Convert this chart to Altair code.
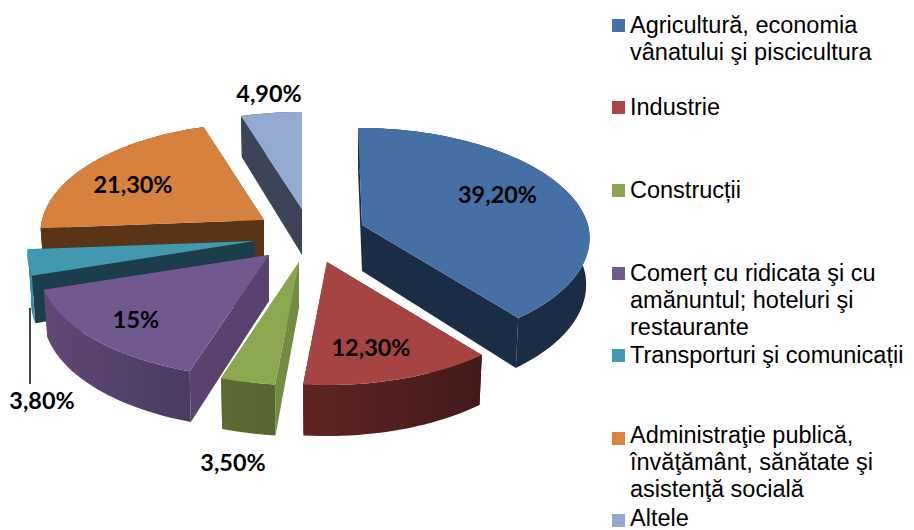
import math
import altair as alt

names = [
    "Agricultură, economia\nvânatului şi piscicultura",
    "Industrie",
    "Construcții",
    "Comerț cu ridicata şi cu\namănuntul; hoteluri şi\nrestaurante",
    "Transporturi şi comunicații",
    "Administraţie publică,\nînvăţământ, sănătate şi\nasistenţă socială",
    "Altele",
]
values = [39.2, 12.3, 3.5, 15.0, 3.8, 21.3, 4.9]
value_labels = ["39,20%", "12,30%", "3,50%", "15%", "3,80%", "21,30%", "4,90%"]

# ---- styling / layout (page pixels) ----
top_colors = ["#4570a6", "#a64442", "#8aa84f", "#71588f", "#4198af", "#d6823e", "#93a9cf"]
legend_colors = ["#4572a7", "#aa4643", "#89a54e", "#71588f", "#4198af", "#db843d", "#93a9cf"]
wall_colors = ["#1b2d45", "#4f1f1e", "#748c41", "#5a4270", "#1c3e4a", "#5a3417", "#3c4557"]
band_left = ["#1b2d45", "#5f2423", "#5b6c32", "#604876", "#3a8ea4", "#5a3417", "#3c4557"]
band_right = ["#1b2d45", "#431a19", "#56672f", "#4c3a60", "#3a8ea4", "#5a3417", "#3c4557"]
apex = [(362, 225), (327, 262), (299, 262), (269, 255), (255, 241), (264, 220), (302, 209)]
radius_x = [226, 224, 224, 228, 226, 222, 224]
skew = [4, 0, 0, 0, 0, 0, 0]
draw_order = [6, 5, 0, 4, 3, 2, 1]
label_pos = [(497.5, 196), (371, 349), (233, 464), (136, 321), (42, 402), (133, 186), (269, 95)]
legend_y = [19, 101, 184, 267, 349, 432, 514]
legend_text_base = [33, 115, 198, 281, 363, 443, 526]

B, K = 108.5, 0.118
BASE_X = 0.985
OFF = 8


def rim(theta, slice_index, depth=False):
    u, v = math.sin(theta), -math.cos(theta)
    d = 1 - K * v
    ax, ay = apex[slice_index]
    dx = radius_x[slice_index] * u / d
    y = ay + B * v / d
    if depth:
        dx *= BASE_X
        y += 46 + 5 * v
    x = ax + dx + skew[slice_index] * min(v, 0)
    return (x - OFF, y - OFF)


def centre(slice_index, depth=False):
    ax, ay = apex[slice_index]
    return (ax - OFF, ay - OFF + (46 if depth else 0))


def poly(points, fill):
    ring = [list(p) for p in points] + [list(points[0])]
    feature = {
        "type": "Feature",
        "properties": {},
        "geometry": {"type": "Polygon", "coordinates": [ring]},
    }
    return alt.Chart(alt.Data(values=[feature])).mark_geoshape(
        fill=fill, stroke="transparent", strokeWidth=0
    ).project(type="identity", scale=1, translate=[0, 0])


total = sum(values)
edges = [0.0]
for val in values:
    edges.append(edges[-1] + val / total * 2 * math.pi)

layers = []
for i in draw_order:
    t0, t1 = edges[i], edges[i + 1]
    n = max(4, int((t1 - t0) / 0.03))
    arc = [t0 + (t1 - t0) * k / n for k in range(n + 1)]
    for t in (t0, t1):
        wall = [centre(i), rim(t, i), rim(t, i, True), centre(i, True)]
        layers.append(poly(wall, wall_colors[i]))
    band = [rim(t, i) for t in arc] + [rim(t, i, True) for t in reversed(arc)]
    grad = alt.Gradient(
        gradient="linear",
        x1=0, x2=1, y1=0, y2=0,
        stops=[
            alt.GradientStop(color=band_left[i], offset=0),
            alt.GradientStop(color=band_right[i], offset=1),
        ],
    )
    layers.append(poly(band, grad))
    face = [centre(i)] + [rim(t, i) for t in arc]
    layers.append(poly(face, top_colors[i]))

# leader line for the 3,80% label
leader = alt.Chart(alt.Data(values=[{"a": 1}])).mark_rule(color="#000000", strokeWidth=1.5).encode(
    x=alt.value(30 - OFF), y=alt.value(308 - OFF), y2=alt.value(384 - OFF)
)
layers.append(leader)

label_rows = [
    {"t": value_labels[i], "px": label_pos[i][0] - OFF, "py": label_pos[i][1] - OFF}
    for i in range(len(values))
]
labels = alt.Chart(alt.Data(values=label_rows)).mark_text(
    font="Lato", fontWeight="bold", fontSize=23.4, color="#000000", baseline="middle", align="center"
).encode(
    x=alt.X("px:Q", scale=None),
    y=alt.Y("py:Q", scale=None),
    text="t:N",
)
layers.append(labels)

legend_rows = [
    {"name": names[i], "c": legend_colors[i], "sx": 618.5 - OFF, "sy": legend_y[i] + 6.5 - OFF,
     "tx": 630 - OFF, "ty": legend_text_base[i] - OFF}
    for i in range(len(names))
]
swatches = alt.Chart(alt.Data(values=legend_rows)).mark_square(size=169, opacity=1, filled=True).encode(
    x=alt.X("sx:Q", scale=None),
    y=alt.Y("sy:Q", scale=None),
    color=alt.Color("c:N", scale=None),
)
legend_text = alt.Chart(alt.Data(values=legend_rows)).mark_text(
    font="Liberation Sans", fontSize=23.5, color="#000000", align="left", baseline="alphabetic",
    lineBreak="\n", lineHeight=27.2,
).encode(
    x=alt.X("tx:Q", scale=None),
    y=alt.Y("ty:Q", scale=None),
    text="name:N",
)
layers += [swatches, legend_text]

chart = alt.layer(*layers).properties(
    width=898, height=522,
    padding=0,
    autosize=alt.AutoSizeParams(type="none"),
    background="#ffffff",
).configure_view(strokeWidth=0)

chart.save("out.html", embed_options={"renderer": "svg", "actions": False})
